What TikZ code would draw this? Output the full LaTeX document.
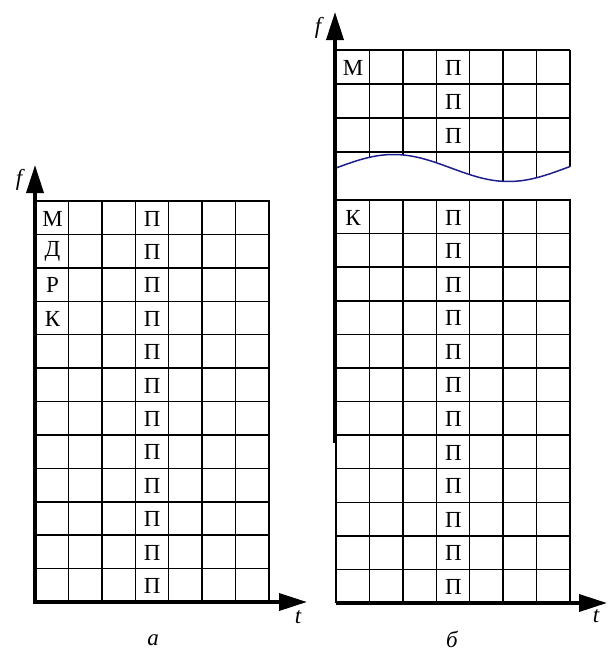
\documentclass[tikz,border=0pt]{standalone}
\usepackage{fontspec}
\setmainfont{Liberation Serif}
\usetikzlibrary{arrows.meta}
\definecolor{wavecol}{RGB}{30,30,140}
\begin{document}
\begin{tikzpicture}[x=1pt,y=-1pt,
  cell/.style={font=\fontsize{23}{23}\selectfont, inner sep=0pt},
  lbl/.style={font=\fontsize{23}{23}\selectfont\itshape, inner sep=0pt},
  gridline/.style={line width=1.5pt},
  border/.style={line width=2.4pt},
  axis/.style={line width=3.6pt},
  tip/.style={-{Triangle[length=28pt,width=17pt]}},
  wave/.style={draw=wavecol, line width=1.5pt}]
\useasboundingbox (0,0) rectangle (608,653);

% ---------- panel a ----------
\foreach \i in {1,...,6}
  \draw[gridline] ({35+\i*33.43},201) -- ({35+\i*33.43},602);
\foreach \j in {1,...,11}
  \draw[gridline] (35,{201+\j*33.42}) -- (269,{201+\j*33.42});
\draw[border] (35,201) -- (269,201) -- (269,602);
\coordinate (a0) at (35,602);
\coordinate (afy) at (35,165);
\coordinate (aft) at (307,602);
\draw[axis, {Triangle[length=28pt,width=17pt]}-{Triangle[length=28pt,width=17pt]}] (afy) -- (a0) -- (aft);
\node[lbl] (fa) at (19,180) {f};
\node[lbl] (ta) at (298,617) {t};
\node[lbl] (capa) at (153,640) {а};

\node[cell] (aM) at (52.5,218.5) {М};
\node[cell] (aD) at (52.5,251.9) {Д};
\node[cell] (aR) at (52.5,285.3) {Р};
\node[cell] (aK) at (52.5,318.7) {К};
\foreach \j in {0,...,11}
  \node[cell] (aP\j) at (152.3,{218.5+\j*33.42}) {П};

% ---------- panel b, upper part ----------
\foreach \j in {84,118,152}
  \draw[gridline] (336,\j) -- (570,\j);
\begin{scope}
  \clip (330,40) -- (576,40) -- (576,168)
    -- plot[domain=570:336, samples=80] (\x, {168-13.5*sin((\x-336)/230*360)}) -- (330,168) -- cycle;
  \foreach \i in {1,...,6}
    \draw[gridline] ({336+\i*33.43},50) -- ({336+\i*33.43},200);
  \draw[border] (570,50) -- (570,200);
\end{scope}
\draw[border] (336,50) -- (570,50);
\draw[wave] plot[domain=336:570, samples=80] (\x, {168-13.5*sin((\x-336)/230*360)});

\node[cell] (bM) at (353,68) {М};
\foreach \j in {0,1,2}
  \node[cell] (bPu\j) at (453.5,{68+\j*34}) {П};

% ---------- panel b, lower part ----------
\foreach \i in {0,...,6}
  \draw[gridline] ({336+\i*33.43},200) -- ({336+\i*33.43},603);
\foreach \j in {1,...,11}
  \draw[gridline] (336,{200+\j*33.583}) -- (570,{200+\j*33.583});
\draw[border] (336,200) -- (570,200) -- (570,603);

\coordinate (bax) at (335,443);
\coordinate (bfy) at (335,12);
\coordinate (b0) at (336,603);
\coordinate (bft) at (607,603);
\draw[axis, tip] (bax) -- (bfy);
\draw[axis, tip] (b0) -- (bft);
\node[lbl] (fb) at (318,28) {f};
\node[lbl] (tb) at (596,616) {t};
\node[lbl] (capb) at (452,639) {б};

\node[cell] (bK) at (353,217.5) {К};
\foreach \j in {0,...,11}
  \node[cell] (bP\j) at (453.5,{217.5+\j*33.583}) {П};
\end{tikzpicture}
\end{document}
